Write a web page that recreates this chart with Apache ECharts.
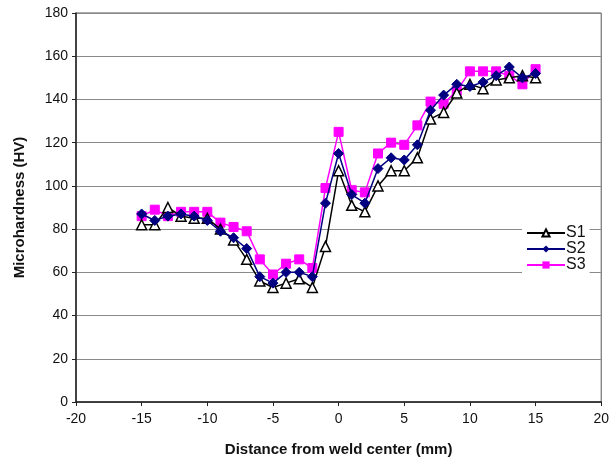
<!DOCTYPE html>
<html>
<head>
<meta charset="utf-8">
<script src="https://cdn.jsdelivr.net/npm/echarts@6/dist/echarts.min.js"></script>
<style>
  html, body { margin: 0; padding: 0; background: #fff; }
  #chart { width: 612px; height: 463px; }
</style>
</head>
<body>
<div id="chart"></div>
<script>
// distance from weld center (mm)
var distance = [-15, -14, -13, -12, -11, -10, -9, -8, -7, -6, -5, -4, -3, -2, -1, 0,
  1, 2, 3, 4, 5, 6, 7, 8, 9, 10, 11, 12, 13, 14, 15]
var s1 = [82, 82, 90, 86, 85, 85, 80, 75, 66, 56, 53, 55, 57, 53, 72, 107,
  91, 88, 100, 107, 107, 113, 131, 134, 143, 147, 145, 149, 150, 151, 150]
var s2 = [87, 84, 86, 87, 86, 84, 79, 76, 71, 58, 55, 60, 60, 58, 92, 115,
  96, 92, 108, 113, 112, 119, 135, 142, 147, 146, 148, 151, 155, 150, 152]
var s3 = [86, 89, 86, 88, 88, 88, 83, 81, 79, 66, 59, 64, 66, 62, 99, 125,
  98, 97, 115, 120, 119, 128, 139, 138, 144, 153, 153, 153, 151, 147, 154]
var seriesNames = ['S1', 'S2', 'S3']

function pairs(ys) {
  return distance.map(function (x, i) { return [x, ys[i]] })
}

var chart = echarts.init(document.getElementById('chart'))
var font = 'Liberation Sans, Arial, sans-serif'
chart.setOption({
  backgroundColor: '#fff',
  animation: false,
  textStyle: { fontFamily: font },
  grid: {
    left: 76,
    right: 9,
    top: 13,
    bottom: 61,
    show: true,
    borderColor: '#555',
    borderWidth: 1
  },
  legend: {
    orient: 'vertical',
    left: 522,
    top: 222,
    padding: [3, 4, 2, 4],
    backgroundColor: '#fff',
    itemWidth: 38,
    itemHeight: 9,
    itemGap: 0,
    textStyle: { fontSize: 16, lineHeight: 14, color: '#111', fontFamily: font, padding: [0, 0, 0, -4] },
    data: seriesNames
  },
  xAxis: {
    type: 'value',
    min: -20,
    max: 20,
    interval: 5,
    name: 'Distance from weld center (mm)',
    nameLocation: 'middle',
    nameGap: 40,
    nameTextStyle: { fontSize: 15, fontWeight: 'bold', color: '#111' },
    axisLine: { onZero: false, lineStyle: { color: '#222', width: 1.5 } },
    axisTick: { length: 4, lineStyle: { color: '#222' } },
    axisLabel: { fontSize: 14, color: '#111', margin: 10 },
    splitLine: { show: false }
  },
  yAxis: {
    type: 'value',
    min: 0,
    max: 180,
    interval: 20,
    name: 'Microhardness (HV)',
    nameLocation: 'middle',
    nameGap: 49,
    nameTextStyle: { fontSize: 15, fontWeight: 'bold', color: '#111' },
    axisLine: { show: true, onZero: false, lineStyle: { color: '#222', width: 1.5 } },
    axisTick: { show: true, length: 4, lineStyle: { color: '#222' } },
    axisLabel: { fontSize: 14, color: '#111', margin: 8 },
    splitLine: { lineStyle: { color: '#8a8a8a', width: 1.2 } }
  },
  series: [{
    name: 'S1',
    type: 'line',
    symbol: 'triangle',
    symbolSize: 10,
    z: 3,
    lineStyle: { color: '#000', width: 1.5 },
    itemStyle: { color: '#fff', borderColor: '#000', borderWidth: 1.5 },
    data: pairs(s1)
  }, {
    name: 'S2',
    type: 'line',
    symbol: 'diamond',
    symbolSize: 10,
    z: 4,
    lineStyle: { color: '#000080', width: 1.5 },
    itemStyle: { color: '#000080', borderColor: '#000080' },
    data: pairs(s2)
  }, {
    name: 'S3',
    type: 'line',
    symbol: 'rect',
    symbolSize: 9,
    z: 2,
    lineStyle: { color: '#ff00ff', width: 1.5 },
    itemStyle: { color: '#ff00ff', borderColor: '#ff00ff' },
    data: pairs(s3)
  }]
})
</script>
</body>
</html>
